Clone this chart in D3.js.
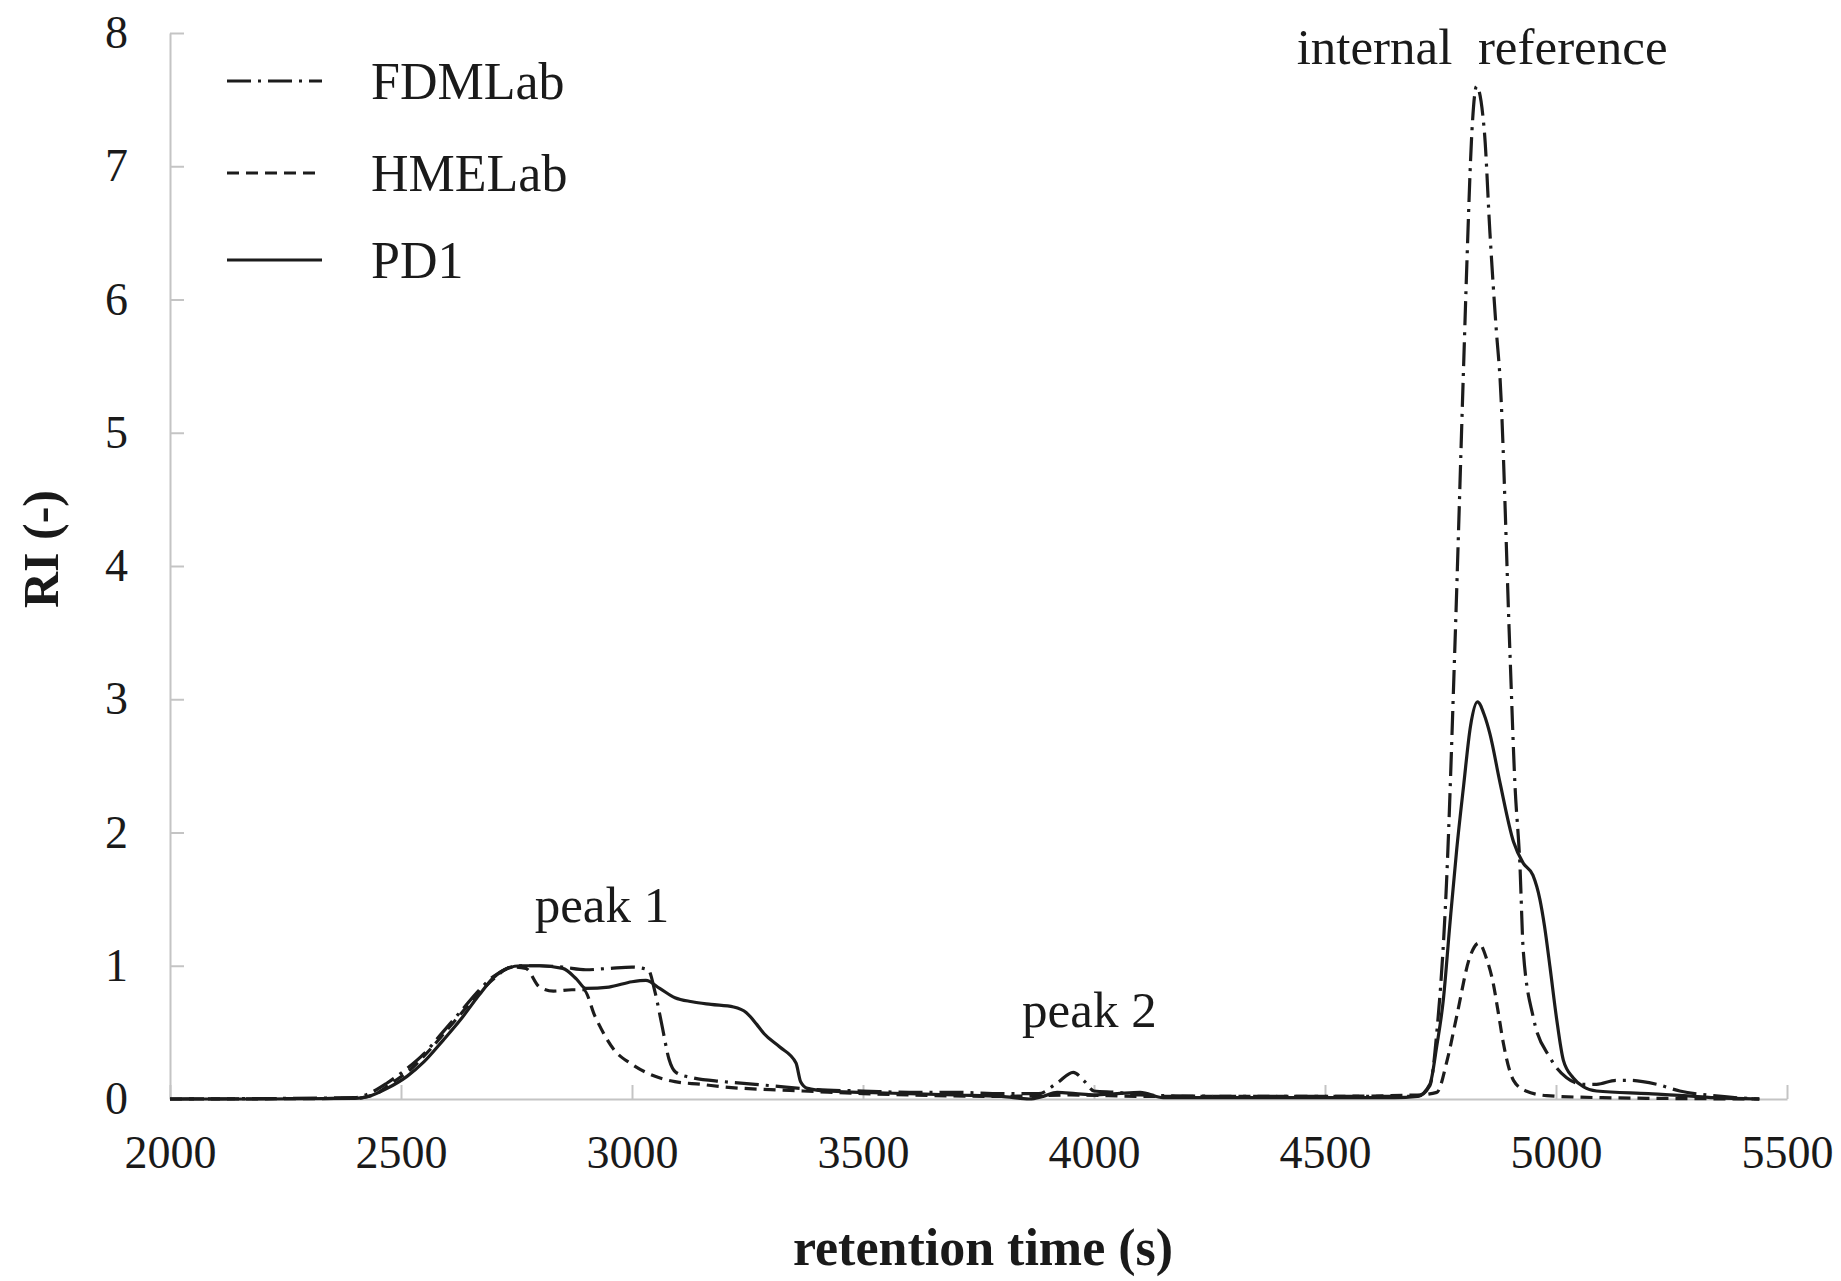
<!DOCTYPE html>
<html>
<head>
<meta charset="utf-8">
<script src="https://cdn.jsdelivr.net/npm/d3@7"></script>
<style>
  html, body { margin: 0; padding: 0; background: #fff; }
  svg { display: block; }
  text { font-family: "Liberation Serif", "Times New Roman", serif; fill: #1a1a1a; }
</style>
</head>
<body>
<svg id="chart" width="1841" height="1281"></svg>
<script>
// ---- data (retention time in s, RI) ----
const fdmTime = [2000,2400,2430,2470,2510,2550,2590,2630,2670,2700,2730,2760,2800,2850,2900,2950,3000,3035,3050,3065,3080,3095,3130,3200,3300,3400,3500,3600,3700,3800,3880,3920,3955,3980,4000,4050,4100,4300,4500,4700,4727,4742,4763,4781,4800,4807,4818,4828,4845,4857,4871,4879,4900,4911,4922,4929,4951,4987,5023,5060,5088,5130,5160,5218,5268,5340,5440];
const fdmRI   = [0,0.01,0.04,0.12,0.22,0.34,0.5,0.66,0.82,0.92,0.98,1.0,1.0,0.99,0.97,0.98,0.99,0.97,0.8,0.55,0.3,0.2,0.16,0.13,0.1,0.07,0.06,0.05,0.05,0.04,0.04,0.12,0.2,0.13,0.06,0.05,0.03,0.02,0.02,0.02,0.1,0.5,1.62,3.38,5.5,6.26,7.26,7.6,7.26,6.5,5.76,5.4,3.38,2.37,1.75,1.12,0.61,0.31,0.16,0.11,0.11,0.14,0.14,0.11,0.06,0.025,0];

const hmeTime = [2000,2400,2440,2480,2520,2560,2600,2650,2700,2740,2770,2800,2830,2870,2895,2920,2961,3000,3050,3093,3150,3200,3300,3370,3500,3600,3800,3950,4100,4300,4500,4700,4742,4765,4785,4814,4833,4850,4864,4875,4886,4908,4935,4980,5100,5440];
const hmeRI   = [0,0.005,0.03,0.12,0.22,0.36,0.52,0.72,0.9,0.99,0.98,0.84,0.81,0.82,0.82,0.62,0.37,0.26,0.17,0.13,0.11,0.09,0.07,0.06,0.04,0.03,0.02,0.03,0.02,0.02,0.02,0.03,0.05,0.3,0.62,1.07,1.17,1.05,0.87,0.65,0.42,0.14,0.06,0.025,0.01,0];

const pd1Time = [2000,2200,2400,2430,2470,2513,2550,2591,2630,2669,2700,2730,2760,2800,2850,2880,2900,2950,3000,3030,3060,3093,3130,3171,3220,3247,3270,3286,3320,3355,3365,3380,3420,3500,3600,3700,3800,3860,3890,3920,3960,4000,4050,4100,4150,4300,4500,4650,4700,4727,4742,4756,4770,4785,4800,4815,4830,4845,4857,4879,4908,4929,4950,4965,4975,4987,5001,5016,5037,5060,5088,5200,5300,5340,5440];
const pd1RI   = [0,0,0.005,0.02,0.08,0.17,0.28,0.44,0.6,0.78,0.91,0.98,1.0,1.0,0.98,0.9,0.83,0.84,0.88,0.89,0.83,0.76,0.73,0.71,0.69,0.65,0.56,0.49,0.39,0.27,0.13,0.08,0.06,0.05,0.04,0.03,0.02,0.0,0.02,0.05,0.04,0.03,0.04,0.05,0.01,0.01,0.01,0.01,0.02,0.11,0.4,0.74,1.3,1.87,2.35,2.8,2.98,2.88,2.74,2.37,1.93,1.77,1.68,1.5,1.3,0.99,0.61,0.29,0.16,0.09,0.06,0.04,0.02,0.01,0];

const seriesNames = ["FDMLab", "HMELab", "PD1"];
const xTicks = [2000,2500,3000,3500,4000,4500,5000,5500];
const yTicks = [0,1,2,3,4,5,6,7,8];
const annotations = [
  {text: "peak 1", t: 2935, v: 1.33},
  {text: "peak 2", t: 3990, v: 0.54},
  {text: "internal  reference", t: 4840, v: 7.77}
];

// ---- build ----
const svg = d3.select("#chart");
const x = d3.scaleLinear().domain([2000, 5500]).range([170, 1787]);
const y = d3.scaleLinear().domain([0, 8]).range([1099, 33]);

const axisColor = "#c4c4c4";

const gx = svg.append("g").attr("transform", `translate(0,${y(0)})`)
  .call(d3.axisBottom(x).tickValues(xTicks).tickFormat(d3.format("d"))
        .tickSizeInner(-14).tickSizeOuter(0).tickPadding(36));
const gy = svg.append("g").attr("transform", `translate(${x(2000)},0)`)
  .call(d3.axisLeft(y).tickValues(yTicks).tickFormat(d3.format("d"))
        .tickSizeInner(-14).tickSizeOuter(0).tickPadding(42));
[gx, gy].forEach(g => {
  g.select(".domain").attr("stroke", axisColor).attr("stroke-width", 2);
  g.selectAll(".tick line").attr("stroke", axisColor).attr("stroke-width", 2);
  g.selectAll(".tick text").attr("font-size", 46)
    .attr("font-family", "'Liberation Serif', serif").attr("fill", "#1a1a1a");
});

const styles = {
  FDMLab: "24,7,3,7",
  HMELab: "12,7",
  PD1: null
};
const datasets = {
  FDMLab: fdmTime.map((t, i) => [t, fdmRI[i]]),
  HMELab: hmeTime.map((t, i) => [t, hmeRI[i]]),
  PD1: pd1Time.map((t, i) => [t, pd1RI[i]])
};

const line = d3.line().x(d => x(d[0])).y(d => y(d[1])).curve(d3.curveMonotoneX);

["HMELab", "FDMLab", "PD1"].forEach(name => {
  svg.append("path")
    .datum(datasets[name])
    .attr("d", line)
    .attr("fill", "none")
    .attr("stroke", "#1c1c1c")
    .attr("stroke-width", 3.2)
    .attr("stroke-linejoin", "round")
    .attr("stroke-dasharray", styles[name]);
});

// legend
const legY = [81, 173, 260];
seriesNames.forEach((name, i) => {
  svg.append("line")
    .attr("x1", 227).attr("x2", 322)
    .attr("y1", legY[i]).attr("y2", legY[i])
    .attr("stroke", "#1c1c1c").attr("stroke-width", 3.2)
    .attr("stroke-dasharray", styles[name]);
  svg.append("text")
    .attr("x", 371).attr("y", legY[i] + 18)
    .attr("font-size", 52)
    .text(name);
});

// annotations
annotations.forEach(a => {
  svg.append("text")
    .attr("x", x(a.t)).attr("y", y(a.v))
    .attr("text-anchor", "middle")
    .attr("font-size", 51)
    .attr("xml:space", "preserve")
    .style("white-space", "pre")
    .text(a.text);
});

// axis titles
svg.append("text")
  .attr("x", 983).attr("y", 1265)
  .attr("text-anchor", "middle")
  .attr("font-size", 52).attr("font-weight", "bold")
  .text("retention time (s)");
svg.append("text")
  .attr("transform", "translate(58,549) rotate(-90)")
  .attr("text-anchor", "middle")
  .attr("font-size", 50).attr("font-weight", "bold")
  .text("RI (-)");
</script>
</body>
</html>
